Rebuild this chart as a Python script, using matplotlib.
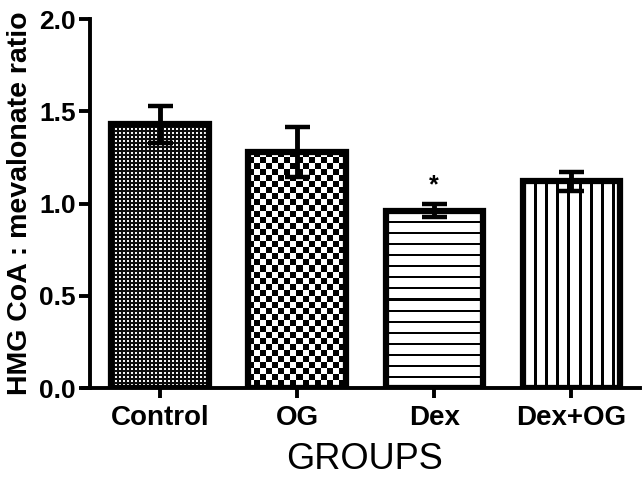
import numpy as np
import matplotlib
matplotlib.use("Agg")
import matplotlib.pyplot as plt

groups = ["Control", "OG", "Dex", "Dex+OG"]
means = [1.43, 1.28, 0.96, 1.12]
errors = [0.10, 0.135, 0.035, 0.05]
patterns = ["fine", "checker", "hlines", "vlines"]
star_group = "Dex"
star_y = 1.10
yticks = [0.0, 0.5, 1.0, 1.5, 2.0]

plt.rcParams['font.family'] = ['Liberation Sans', 'DejaVu Sans']

fig = plt.figure(figsize=(6.44, 4.82), dpi=100)
ax = fig.add_axes([90/644, 1-388/482, 550/644, 369/482])
x = np.arange(len(groups))
ax.set_xlim(-0.51, 3.5)
ax.set_ylim(0, 2.0)

bars = ax.bar(x, means, width=0.71, facecolor='none', edgecolor='black',
              linewidth=4.5, zorder=3)

fig.canvas.draw()
bb = ax.get_window_extent()
pxx = bb.width / (3.5 + 0.51)
pxy = bb.height / 2.0

def make_pattern(kind, nx, ny):
    jj, ii = np.meshgrid(np.arange(nx), np.arange(ny))
    if kind == "fine":
        a = (ii % 4 < 2) & (jj % 4 < 2)
        return np.where(a, 0.95, 0.05)
    if kind == "checker":
        a = ((ii // 6) + (jj // 6)) % 2 == 0
        return np.where(a, 1.0, 0.0)
    if kind == "hlines":
        a = (ii % 11) < 2
        return np.where(a, 0.0, 1.0)
    if kind == "vlines":
        a = (jj % 11) < 3
        return np.where(a, 0.0, 1.0)

for patch, kind in zip(bars.patches, patterns):
    x0, w, h = patch.get_x(), patch.get_width(), patch.get_height()
    nx = max(int(round(w * pxx)), 1)
    ny = max(int(round(h * pxy)), 1)
    img = make_pattern(kind, nx, ny)
    im = ax.imshow(img, cmap='gray', vmin=0, vmax=1, extent=(x0, x0 + w, 0, h),
                   origin='upper', interpolation='nearest', aspect='auto', zorder=2)
    im.set_clip_path(patch)

ax.set_xlim(-0.51, 3.5)
ax.set_ylim(0, 2.0)

ax.errorbar(x, means, yerr=errors, fmt='none', ecolor='black', elinewidth=3.5,
            capsize=9, capthick=3.2, zorder=4)

ax.text(groups.index(star_group), star_y, "*", ha='center', va='center',
        fontsize=18, fontweight='bold')

for s in ['top', 'right']:
    ax.spines[s].set_visible(False)
ax.spines['left'].set_linewidth(2.8)
ax.spines['bottom'].set_linewidth(2.8)
ax.spines['bottom'].set_bounds(-0.56, 3.5)

ax.set_yticks(yticks)
ax.set_yticklabels([f"{v:.1f}" for v in yticks])
ax.set_xticks(x)
ax.set_xticklabels(groups)
ax.tick_params(axis='y', length=8, width=2.8, pad=2, labelsize=19)
ax.tick_params(axis='x', length=7, width=2.8, pad=5, labelsize=20)
for lab in ax.get_xticklabels() + ax.get_yticklabels():
    lab.set_fontweight('bold')

ax.set_ylabel("HMG CoA : mevalonate ratio", fontsize=20.5, fontweight='bold', labelpad=5)
ax.set_xlabel("GROUPS", fontsize=26, labelpad=8)
ax.patch.set_visible(False)
for sp in ax.spines.values():
    sp.set_clip_on(False)

fig.savefig("out.png", dpi=100, facecolor='white')
